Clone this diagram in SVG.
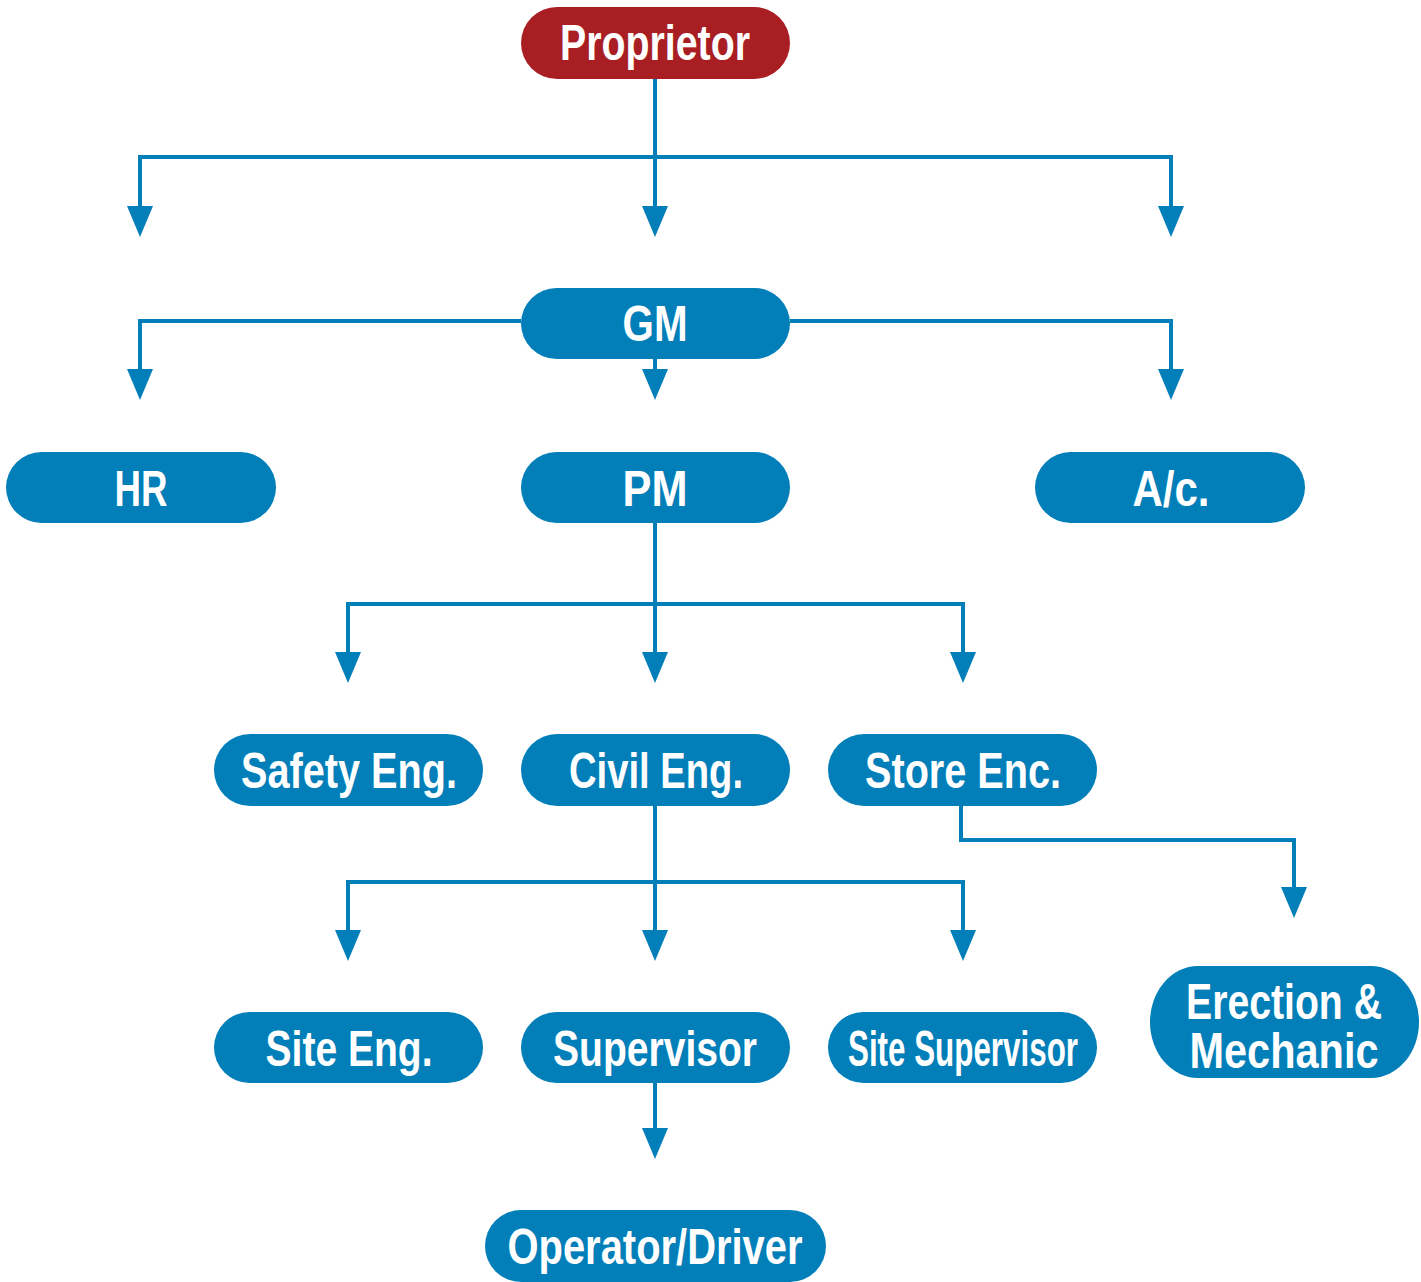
<svg xmlns="http://www.w3.org/2000/svg" width="1421" height="1282" viewBox="0 0 1421 1282">
<style>
.n{fill:#027EB9}
.r{fill:#A91E23}
.t{font-family:"Liberation Sans",Arial,sans-serif;font-weight:bold;font-size:50px;fill:#fff;text-anchor:middle}
.c{fill:none;stroke:#027EB9;stroke-width:4;marker-end:url(#ah)}
.l{fill:none;stroke:#027EB9;stroke-width:4}
</style>
<defs>
<marker id="ah" markerUnits="userSpaceOnUse" viewBox="0 -14 32 28" markerWidth="32" markerHeight="28" refX="11" refY="0" orient="auto">
<path d="M0,-13 L31,0 L0,13 z" fill="#027EB9"/>
</marker>
</defs>
<rect width="1421" height="1282" fill="#fff"/>
<g id="connectors">
<path class="c" d="M655,79 V217"/>
<path class="c" d="M655,157 H140 V217"/>
<path class="c" d="M655,157 H1171 V217"/>
<path class="c" d="M521,321 H140 V380"/>
<path class="c" d="M790,321 H1171 V380"/>
<path class="c" d="M655,359 V380"/>
<path class="c" d="M655,523 V663"/>
<path class="c" d="M655,604 H348 V663"/>
<path class="c" d="M655,604 H963 V663"/>
<path class="c" d="M655,806 V941"/>
<path class="c" d="M655,882 H348 V941"/>
<path class="c" d="M655,882 H963 V941"/>
<path class="c" d="M961,806 V840 H1294 V898"/>
<path class="c" d="M655,1083 V1139"/>
</g>
<g id="proprietor"><rect class="r" x="521" y="7" width="269" height="72" rx="36"/><text class="t" x="655" y="60" textLength="190" lengthAdjust="spacingAndGlyphs">Proprietor</text></g>
<g id="gm"><rect class="n" x="521" y="288" width="269" height="71" rx="35.5"/><text class="t" x="655" y="341" textLength="65" lengthAdjust="spacingAndGlyphs">GM</text></g>
<g id="hr"><rect class="n" x="6" y="452" width="270" height="71" rx="35.5"/><text class="t" x="141" y="506" textLength="53" lengthAdjust="spacingAndGlyphs">HR</text></g>
<g id="pm"><rect class="n" x="521" y="452" width="269" height="71" rx="35.5"/><text class="t" x="655" y="506" textLength="65" lengthAdjust="spacingAndGlyphs">PM</text></g>
<g id="ac"><rect class="n" x="1035" y="452" width="270" height="71" rx="35.5"/><text class="t" x="1171" y="506" textLength="77" lengthAdjust="spacingAndGlyphs">A/c.</text></g>
<g id="safety"><rect class="n" x="214" y="734" width="269" height="72" rx="36"/><text class="t" x="349" y="788" textLength="216" lengthAdjust="spacingAndGlyphs">Safety Eng.</text></g>
<g id="civil"><rect class="n" x="521" y="734" width="269" height="72" rx="36"/><text class="t" x="656" y="788" textLength="174" lengthAdjust="spacingAndGlyphs">Civil Eng.</text></g>
<g id="store"><rect class="n" x="828" y="734" width="269" height="72" rx="36"/><text class="t" x="963" y="788" textLength="196" lengthAdjust="spacingAndGlyphs">Store Enc.</text></g>
<g id="siteeng"><rect class="n" x="214" y="1012" width="269" height="71" rx="35.5"/><text class="t" x="349" y="1066" textLength="167" lengthAdjust="spacingAndGlyphs">Site Eng.</text></g>
<g id="supervisor"><rect class="n" x="521" y="1012" width="269" height="71" rx="35.5"/><text class="t" x="655" y="1066" textLength="204" lengthAdjust="spacingAndGlyphs">Supervisor</text></g>
<g id="sitesupervisor"><rect class="n" x="828" y="1012" width="269" height="71" rx="35.5"/><text class="t" x="963" y="1066" textLength="230" lengthAdjust="spacingAndGlyphs">Site Supervisor</text></g>
<g id="erection"><rect class="n" x="1150" y="966" width="269" height="112" rx="48" ry="56"/><text class="t" x="1284" y="1019" textLength="196" lengthAdjust="spacingAndGlyphs">Erection &amp;</text><text class="t" x="1284" y="1068" textLength="189" lengthAdjust="spacingAndGlyphs">Mechanic</text></g>
<g id="operator"><rect class="n" x="485" y="1210" width="341" height="72" rx="36"/><text class="t" x="655" y="1264" textLength="295" lengthAdjust="spacingAndGlyphs">Operator/Driver</text></g>
</svg>
